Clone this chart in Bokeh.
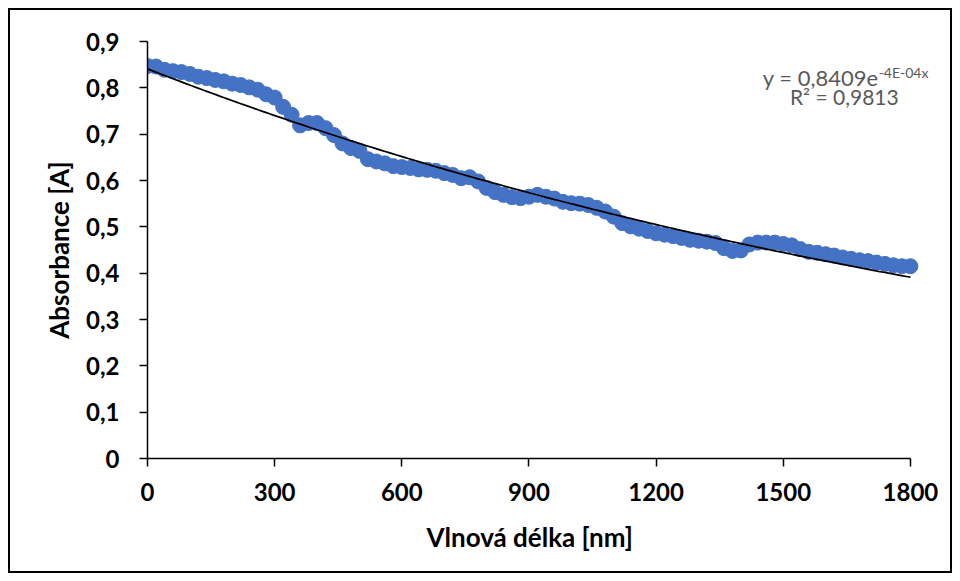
import numpy as np
from bokeh.plotting import figure
from bokeh.models import Range1d, FixedTicker, Label, Title, InlineStyleSheet
from bokeh.embed import file_html
from bokeh.resources import INLINE

# --- data ---
wavelength = [0, 20, 40, 60, 80, 100, 120, 140, 160, 180, 200, 220, 240, 260, 280,
              300, 320, 340, 360, 380, 400, 420, 440, 460, 480, 500, 520, 540, 560, 580,
              600, 620, 640, 660, 680, 700, 720, 740, 760, 780, 800, 820, 840, 860, 880,
              900, 920, 940, 960, 980, 1000, 1020, 1040, 1060, 1080, 1100, 1120, 1140, 1160, 1180,
              1200, 1220, 1240, 1260, 1280, 1300, 1320, 1340, 1360, 1380, 1400, 1420, 1440, 1460, 1480,
              1500, 1520, 1540, 1560, 1580, 1600, 1620, 1640, 1660, 1680, 1700, 1720, 1740, 1760, 1780,
              1800]
absorbance = [0.847, 0.846, 0.839, 0.836, 0.834, 0.830, 0.824, 0.821, 0.817, 0.814, 0.809, 0.806, 0.801, 0.796, 0.786,
              0.779, 0.759, 0.742, 0.719, 0.724, 0.724, 0.713, 0.698, 0.680, 0.670, 0.664, 0.646, 0.641, 0.637, 0.631,
              0.629, 0.627, 0.624, 0.623, 0.621, 0.616, 0.612, 0.605, 0.607, 0.598, 0.584, 0.575, 0.569, 0.564, 0.562,
              0.565, 0.569, 0.565, 0.561, 0.554, 0.551, 0.550, 0.547, 0.541, 0.533, 0.522, 0.508, 0.501, 0.496, 0.491,
              0.486, 0.483, 0.480, 0.476, 0.472, 0.470, 0.468, 0.465, 0.454, 0.448, 0.449, 0.462, 0.466, 0.466, 0.466,
              0.463, 0.460, 0.452, 0.446, 0.444, 0.441, 0.438, 0.434, 0.431, 0.428, 0.426, 0.423, 0.420, 0.417, 0.415,
              0.415]

# exponential trendline y = a * exp(-k x)
trend_a = 0.8409
trend_k = 4.25e-4

x_ticks = [0, 300, 600, 900, 1200, 1500, 1800]
y_ticks = [0, 0.1, 0.2, 0.3, 0.4, 0.5, 0.6, 0.7, 0.8, 0.9]
y_tick_labels = ["0", "0,1", "0,2", "0,3", "0,4", "0,5", "0,6", "0,7", "0,8", "0,9"]

eq_main = "y = 0,8409e"
eq_sup = "-4E-04x"
eq_r2 = "R² = 0,9813"

x_title = "Vlnová délka [nm]"
y_title = "Absorbance [A]"

# --- figure ---
p = figure(width=960, height=581, output_backend="svg", toolbar_location=None,
           x_range=Range1d(0, 1845), y_range=Range1d(0, 0.9),
           min_border_left=147, min_border_right=31, min_border_top=41, min_border_bottom=123)
p.background_fill_color = "white"
p.border_fill_color = None
p.outline_line_color = None
p.grid.visible = False
# outer chart border (drawn by the page around the canvas)
p.styles = {"outline": "2px solid black", "outline-offset": "-10px", "background-color": "white"}
p.stylesheets = [InlineStyleSheet(css=":host { outline: 2px solid black; outline-offset: -10px; }")]

FONT = "Lato"

# x axis
xa = p.xaxis[0]
xa.ticker = FixedTicker(ticks=x_ticks)
xa.bounds = (0, 1800)

# y axis
ya = p.yaxis[0]
ya.ticker = FixedTicker(ticks=y_ticks)
ya.bounds = (0, 0.9)
ya.major_label_overrides = {t: l for t, l in zip(y_ticks, y_tick_labels)}
ya.axis_label = y_title

for ax in (xa, ya):
    ax.axis_line_color = "black"
    ax.axis_line_width = 1.5
    ax.major_tick_line_color = "black"
    ax.major_tick_line_width = 1.5
    ax.major_tick_in = 0
    ax.major_tick_out = 8
    ax.minor_tick_line_color = None
    ax.major_label_text_font = FONT
    ax.major_label_text_font_style = "bold"
    ax.major_label_text_font_size = "24px"
    ax.major_label_text_color = "black"
    ax.axis_label_text_font = FONT
    ax.axis_label_text_font_style = "bold"
    ax.axis_label_text_font_size = "26px"
    ax.axis_label_text_color = "black"

ya.major_label_standoff = 20
xa.major_label_standoff = 16
ya.axis_label_standoff = 8

# x-axis title, centred under the 0..1800 axis
p.add_layout(Title(text=x_title, align="left", offset=279, text_font=FONT, text_font_size="26px",
                   text_font_style="bold", text_color="black", standoff=30), "below")

# data points
p.scatter(wavelength, absorbance, size=15, fill_color="#4472C4", line_color="#4472C4",
          line_width=1)

# trendline
tx = np.linspace(0, 1800, 200)
ty = trend_a * np.exp(-trend_k * tx)
p.line(tx, ty, line_color="black", line_width=1.75)

# equation labels
p.add_layout(Label(x=1725, y=0.822, text=eq_main, text_align="right", text_baseline="alphabetic",
                   text_font=FONT, text_font_size="22px", text_color="#595959"))
p.add_layout(Label(x=1725, y=0.833, text=eq_sup, text_align="left", text_baseline="alphabetic",
                   text_font=FONT, text_font_size="14px", text_color="#595959"))
p.add_layout(Label(x=1644, y=0.782, text=eq_r2, text_align="center", text_baseline="alphabetic",
                   text_font=FONT, text_font_size="21px", text_color="#595959"))

open("out.html", "w").write(file_html(p, INLINE))
